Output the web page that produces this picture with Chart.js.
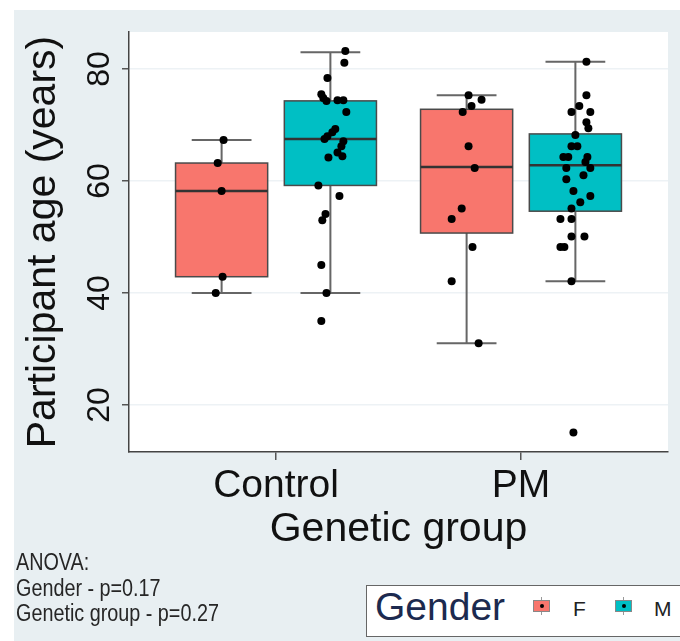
<!DOCTYPE html>
<html>
<head>
<meta charset="utf-8">
<title>Participant age by genetic group</title>
<script src="https://cdn.jsdelivr.net/npm/chart.js@4.4.0/dist/chart.umd.min.js"></script>
<style>
    html, body { margin: 0; padding: 0; background: #fff; overflow: hidden; }
    #page { position: relative; width: 680px; height: 641px; overflow: hidden; }
    #bg { position: absolute; left: 14px; top: 10px; right: 0; bottom: 0; background: #e8eff2; }
    #chart { position: absolute; left: 0; top: 0; }
    #anova {
        position: absolute; left: 16px; top: 550px;
        font-family: "Liberation Sans", Arial, sans-serif; font-size: 23px; line-height: 25.5px;
        color: #262626; transform: scaleX(0.86); transform-origin: left top; white-space: nowrap;
    }
    #legend {
        position: absolute; left: 366px; top: 585px; width: 340px; height: 52px;
        background: #fff; border: 1.5px solid #666; box-sizing: border-box;
        font-family: "Liberation Sans", Arial, sans-serif;
    }
    #legend .title { position: absolute; left: 8px; top: 1px; font-size: 39px; line-height: 39px; color: #1c2a4f; }
    #legend .key {
        position: absolute; top: 14px; width: 17px; height: 12px;
        border: 1px solid #888; box-sizing: border-box;
    }
    #legend .key::after {
        content: ""; position: absolute; left: 5.5px; top: 3px; width: 4px; height: 4px;
        border-radius: 50%; background: #000;
    }
    #legend .key::before {
        content: ""; position: absolute; left: 7px; top: -4px; width: 1px; height: 3px;
        background: #999; box-shadow: 0 15px 0 #999;
    }
    #legend .lab { position: absolute; top: 12px; font-size: 21px; line-height: 21px; color: #222; }
</style>
</head>
<body>
<div id="page">
    <div id="bg"></div>
    <canvas id="chart" width="680" height="641"></canvas>
    <div id="anova">ANOVA:<br>Gender - p=0.17<br>Genetic group - p=0.27</div>
    <div id="legend">
        <span class="title">Gender</span>
        <span class="key" style="left:166px;background:#F8766D"></span>
        <span class="lab" style="left:206px">F</span>
        <span class="key" style="left:248px;background:#00BFC4"></span>
        <span class="lab" style="left:287px">M</span>
    </div>
</div>
<script>
// Categories and tick labels
var categories = ['Control', 'PM'];
var genders = ['F', 'M'];
var genderColors = ['#F8766D', '#00BFC4'];
var yTicks = [20, 40, 60, 80];

// Box stats: [lower whisker, Q1, median, Q3, upper whisker]
var controlF_box = [40.0, 42.9, 58.2, 63.2, 67.3];
var controlM_box = [40.0, 59.2, 67.5, 74.3, 83.0];
var pmF_box = [31.0, 50.7, 62.5, 72.8, 75.3];
var pmM_box = [42.1, 54.6, 62.8, 68.4, 81.3];

// Individual participants (age) and their horizontal jitter (in group units)
var controlF_age = [67.3, 63.2, 58.2, 42.9, 40.0];
var controlF_jitter = [0.008, -0.016, 0, 0.004, -0.024];

var controlM_age = [83.2, 81.1, 78.4, 75.5, 74.8, 74.3, 74.4, 74.4, 72.3, 69.3, 68.7, 68.0, 67.5,
    67.1, 66.2, 65.1, 64.4, 64.2, 59.2, 57.3, 54.1, 53.0, 45.0, 40.0, 35.0];
var controlM_jitter = [0.061, 0.057, -0.012, -0.037, -0.029, -0.016, 0.029, 0.053, 0.065, 0.020, 0.008, -0.012, -0.024,
    0.053, 0.045, 0.029, 0.049, -0.008, -0.049, 0.037, -0.020, -0.033, -0.037, -0.016, -0.037];

var pmF_age = [75.3, 74.5, 73.4, 72.3, 66.2, 62.3, 55.1, 53.2, 48.2, 42.1, 31.0];
var pmF_jitter = [0.008, 0.061, 0.020, -0.016, 0.008, 0.033, -0.020, -0.061, 0.024, -0.061, 0.049];

var pmM_age = [81.3, 75.3, 73.4, 72.3, 72.3, 70.5, 69.4, 68.2, 66.2, 66.2, 64.3, 64.3, 64.3, 62.3, 63.4,
    62.3, 61.0, 60.3, 58.2, 57.3, 56.2, 55.1, 53.2, 53.2, 50.1, 50.1, 48.2, 48.2, 42.1, 15.1];
var pmM_jitter = [0.045, 0.045, 0.016, -0.016, 0.061, 0.045, 0.053, 0, -0.016, 0.008, -0.049, -0.029, 0.049, -0.037, 0.041,
    0.061, 0.033, -0.037, -0.008, 0.061, 0.020, -0.016, -0.061, -0.016, -0.016, 0.037, -0.061, -0.045, -0.016, -0.008];

// Dodge and box geometry (in x-axis units)
var dodge = 0.222;
var boxHalf = 0.188;
var capHalf = 0.122;
var fontFamily = '"Liberation Sans", Arial, sans-serif';

var groups = [
    { cat: 0, sex: 0, box: controlF_box, age: controlF_age, jitter: controlF_jitter },
    { cat: 0, sex: 1, box: controlM_box, age: controlM_age, jitter: controlM_jitter },
    { cat: 1, sex: 0, box: pmF_box, age: pmF_age, jitter: pmF_jitter },
    { cat: 1, sex: 1, box: pmM_box, age: pmM_age, jitter: pmM_jitter }
];

function groupCenter(g) {
    return g.cat + 1 + (g.sex === 0 ? -dodge : dodge);
}

var datasets = groups.map(function (g) {
    var c = groupCenter(g);
    return {
        label: categories[g.cat] + ' ' + genders[g.sex],
        data: g.age.map(function (a, i) { return { x: c + g.jitter[i], y: a }; }),
        pointRadius: 4,
        pointBackgroundColor: '#000',
        pointBorderWidth: 0
    };
});

// White panel, boxes and whiskers, rotated y tick labels
var boxPlugin = {
    id: 'boxes',
    beforeDraw: function (chart) {
        var ctx = chart.ctx, a = chart.chartArea;
        ctx.save();
        ctx.fillStyle = '#fff';
        ctx.fillRect(a.left, a.top, a.right - a.left, a.bottom - a.top);
        ctx.restore();
    },
    beforeDatasetsDraw: function (chart) {
        var ctx = chart.ctx, x = chart.scales.x, y = chart.scales.y;
        ctx.save();
        groups.forEach(function (g) {
            var c = groupCenter(g);
            var px = x.getPixelForValue(c);
            var left = x.getPixelForValue(c - boxHalf), right = x.getPixelForValue(c + boxHalf);
            var capL = x.getPixelForValue(c - capHalf), capR = x.getPixelForValue(c + capHalf);
            var p = g.box.map(function (v) { return y.getPixelForValue(v); });

            // whiskers with caps
            ctx.strokeStyle = '#666';
            ctx.lineWidth = 2;
            ctx.beginPath();
            ctx.moveTo(px, p[0]); ctx.lineTo(px, p[4]);
            ctx.moveTo(capL, p[0]); ctx.lineTo(capR, p[0]);
            ctx.moveTo(capL, p[4]); ctx.lineTo(capR, p[4]);
            ctx.stroke();

            // box
            ctx.fillStyle = genderColors[g.sex];
            ctx.fillRect(left, p[3], right - left, p[1] - p[3]);
            ctx.strokeStyle = '#4a4a4a';
            ctx.lineWidth = 1.5;
            ctx.strokeRect(left, p[3], right - left, p[1] - p[3]);

            // median
            ctx.strokeStyle = '#333';
            ctx.lineWidth = 2.5;
            ctx.beginPath();
            ctx.moveTo(left, p[2]); ctx.lineTo(right, p[2]);
            ctx.stroke();
        });
        ctx.restore();
    },
    afterDraw: function (chart) {
        var ctx = chart.ctx, y = chart.scales.y;
        ctx.save();
        ctx.font = '32px ' + fontFamily;
        ctx.fillStyle = '#111';
        ctx.textAlign = 'center';
        ctx.textBaseline = 'alphabetic';
        y.ticks.forEach(function (t) {
            ctx.save();
            ctx.translate(y.right - 20, y.getPixelForValue(t.value));
            ctx.rotate(-Math.PI / 2);
            ctx.fillText(String(t.value), 0, 0);
            ctx.restore();
        });
        ctx.restore();
    }
};

var ctx = document.getElementById('chart').getContext('2d');
var ageChart = new Chart(ctx, {
    type: 'scatter',
    data: { datasets: datasets },
    options: {
        responsive: false,
        animation: false,
        devicePixelRatio: 1,
        layout: { padding: { left: 14, top: 32, right: 12, bottom: 80 } },
        plugins: {
            legend: { display: false },
            tooltip: { enabled: false }
        },
        scales: {
            x: {
                type: 'linear',
                min: 0.4,
                max: 2.6,
                afterBuildTicks: function (scale) {
                    scale.ticks = categories.map(function (c, i) { return { value: i + 1 }; });
                },
                afterFit: function (scale) { scale.height = 109; },
                ticks: {
                    callback: function (value) { return categories[Math.round(value) - 1]; },
                    font: { family: fontFamily, size: 39 },
                    color: '#111',
                    padding: 3,
                    maxRotation: 0,
                    autoSkip: false
                },
                grid: { drawOnChartArea: false, tickLength: 8, tickColor: '#555', lineWidth: 1.5 },
                border: { color: '#444', width: 1.5 },
                title: {
                    display: true,
                    text: 'Genetic group',
                    font: { family: fontFamily, size: 41 },
                    color: '#111',
                    padding: { top: 0, bottom: 7 }
                }
            },
            y: {
                min: 11.6,
                max: 86.6,
                afterBuildTicks: function (scale) {
                    scale.ticks = yTicks.map(function (v) { return { value: v }; });
                },
                afterFit: function (scale) { scale.width = 115; },
                ticks: { display: false },
                grid: { color: '#edf2f5', lineWidth: 1.5, tickLength: 7, tickColor: '#555' },
                border: { color: '#444', width: 1.5 },
                title: {
                    display: true,
                    text: 'Participant age (years)',
                    font: { family: fontFamily, size: 41 },
                    color: '#111',
                    padding: { top: 5, bottom: 0 }
                }
            }
        }
    },
    plugins: [boxPlugin]
});
</script>
</body>
</html>
